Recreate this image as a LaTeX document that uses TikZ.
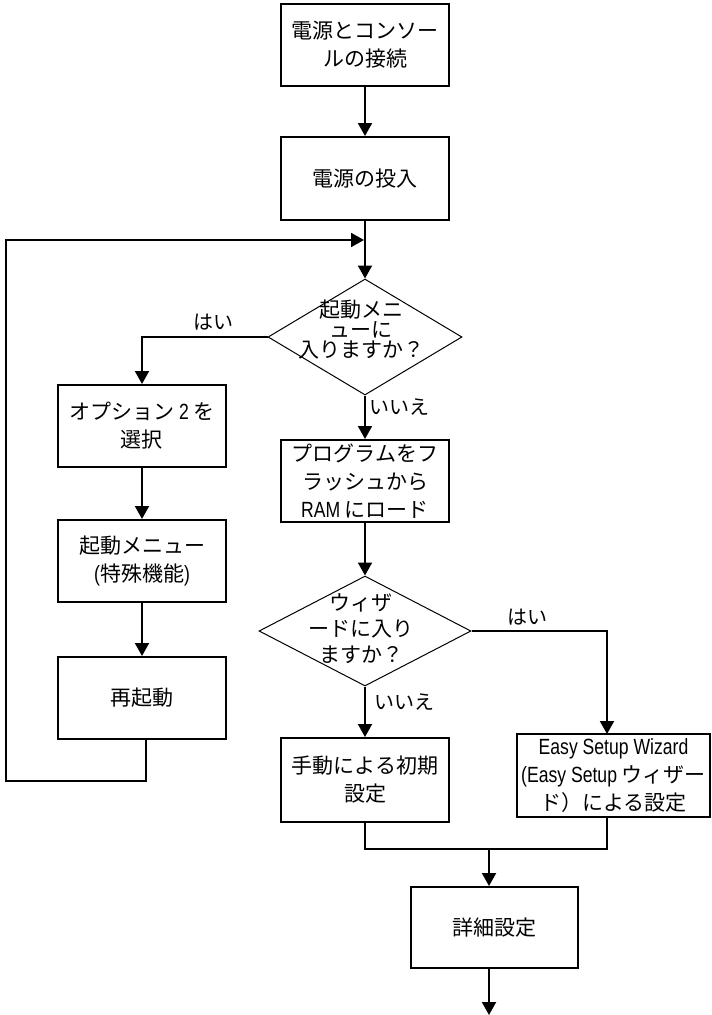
\documentclass[tikz,border=0pt]{standalone}
\usepackage{fontspec}
\setmainfont{Noto Sans CJK JP}
\newfontfamily\cond[FakeStretch=0.8]{Liberation Sans}
\usetikzlibrary{arrows.meta,shapes.geometric}
\newcommand\jpfont{\fontsize{21}{28}\selectfont}
\newcommand\lat[1]{{\cond\fontsize{22}{28}\selectfont #1}}
\tikzset{
  box/.style={draw, line width=2pt, minimum width=168pt, minimum height=82pt, inner sep=0pt, align=center, font=\jpfont},
  dia/.style={draw, shape=diamond, line width=1pt, inner sep=0pt},
  dtext/.style={inner sep=0pt, align=center, font={\fontsize{21}{20}\selectfont}},
  dtextb/.style={inner sep=0pt, align=center, font={\fontsize{21}{26}\selectfont}},
  lbl/.style={inner sep=0pt, font={\fontsize{20}{24}\selectfont}},
  ln/.style={line width=2pt},
  arr/.style={line width=2pt, -{Triangle[length=13pt,width=14pt]}}
}
\begin{document}
\begin{tikzpicture}[x=1pt,y=-1pt]
\useasboundingbox (0,0) rectangle (712,1015);
% boxes
\node[box] (b1) at (365,45) {電源とコンソー\\ルの接続};
\node[box, minimum height=83pt] (b2) at (365,178.5) {電源の投入};
\node[dia, minimum width=194pt, minimum height=116pt] (d1) at (365,337) {};
\node[dtext] (t1) at (361,330) {起動メニ\\ューに\\入りますか？};
\node[box] (opt) at (142,426) {オプション \lat{2} を\\選択};
\node[box] (boot) at (142,561) {起動メニュー\\\lat{(}特殊機能\lat{)}};
\node[box] (reb) at (142,698) {再起動};
\node[box] (ram) at (365,481) {プログラムをフ\\ラッシュから\\\lat{RAM} にロード};
\node[dia, minimum width=212pt, minimum height=110pt] (d2) at (365,631) {};
\node[dtextb] (t2) at (361,629) {ウィザ\\ードに入り\\ますか？};
\node[box, minimum height=84pt] (man) at (365,780) {手動による初期\\設定};
\node[box, minimum width=193pt, minimum height=83pt] (easy) at (613.5,775.5) {\lat{Easy Setup Wizard}\\\lat{(Easy Setup} ウィザー\\ド）による設定};
\node[box, minimum width=167pt, minimum height=81pt] (det) at (494.5,927.5) {詳細設定};
% labels
\node[lbl] (y1) at (213,322) {はい};
\node[lbl, anchor=west] (n1) at (369,407) {いいえ};
\node[lbl] (y2) at (527,617) {はい};
\node[lbl, anchor=west] (n2) at (374,702) {いいえ};
% coordinates
\coordinate (j1) at (364,240);
\coordinate (lp1) at (146,781);
\coordinate (lp2) at (5.5,240);
\coordinate (ex) at (607,734);
\coordinate (eb) at (607,817);
\coordinate (em) at (607,849);
\coordinate (mj) at (489,849);
\coordinate (end) at (489,1015);
% connectors
\draw[arr] (b1) -- (b2);
\draw[arr] (b2.south) -- (d1.north);
\draw[arr] (d1.west) -| (opt.north);
\draw[arr] (opt) -- (boot);
\draw[arr] (boot) -- (reb);
\draw[arr] (reb.south -| lp1) -- (lp1) -| (lp2) -- (j1);
\draw[arr] (d1.south) -- (ram.north);
\draw[arr] (ram) -- (d2);
\draw[arr] (d2.east) -| (ex);
\draw[arr] (d2.south) -- (man.north);
\draw[ln] (man.south) |- (em) -- (eb);
\draw[arr] (mj) -- (mj |- det.north);
\draw[arr] (det.south -| mj) -- (end);
\end{tikzpicture}
\end{document}
